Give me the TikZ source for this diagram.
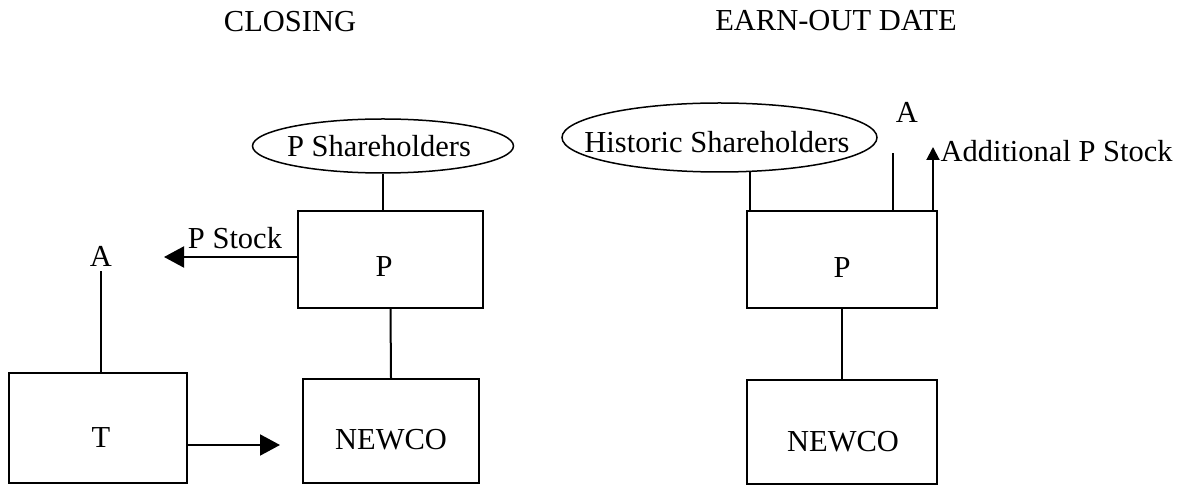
\documentclass[tikz,border=0pt]{standalone}
\usepackage{fontspec}
\setmainfont{Liberation Serif}
\usetikzlibrary{shapes.geometric,arrows.meta,fit}
\begin{document}
\begin{tikzpicture}[x=0.4pt,y=-0.4pt,
  ln/.style={line width=0.8pt},
  arr/.style={ln,-{Triangle[length=8pt,width=8.4pt]}},
  arrup/.style={ln,-{Triangle[length=5.2pt,width=5.2pt]}},
  box/.style={draw,rectangle,line width=0.8pt,inner sep=0pt},
  oval/.style={draw,ellipse,line width=0.6pt,inner sep=0pt},
  txt/.style={font=\fontsize{12.2pt}{14pt}\selectfont,anchor=base,inner sep=0pt}]
\fill[white] (0,0) rectangle (1194,485);
\useasboundingbox (0,0) rectangle (1194,485);
% titles
\node[txt] (closing) at (290,32) {CLOSING};
\node[txt] (earnout) at (836,31) {EARN-OUT DATE};
% left: closing
\node[oval,minimum width=104.4pt,minimum height=21.6pt] (pshe) at (383,146) {};
\node[txt] (pshl) at (379,157) {P Shareholders};
\node[box,fit={(298,211) (483,308)}] (pl) {};
\node[txt] (plt) at (384,277) {P};
\node[box,fit={(303,379) (479,483)}] (nl) {};
\node[txt] (nlt) at (391,450) {NEWCO};
\node[box,fit={(9,373) (187,483)}] (tl) {};
\node[txt] (tlt) at (101,447) {T};
\node[txt] (al) at (101,267) {A};
\node[txt] (pstock) at (235,249) {P Stock};
\coordinate (stocktip) at (164,257);
\coordinate (newcotip) at (280,445);
\draw[ln] (pshe.south) -- (pshe.south |- pl.north);
\draw[ln] (pl.south) -- (nl.north);
\draw[arr] (pl.west |- stocktip) -- (stocktip);
\draw[ln] (tl.north -| al.south) -- ([yshift=-1.6pt]al.south);
\draw[arr] (tl.east |- newcotip) -- (newcotip);
% right: earn-out date
\node[oval,minimum width=126pt,minimum height=27.6pt] (hse) at (719.5,137.5) {};
\node[txt] (hsl) at (717,153) {Historic Shareholders};
\node[box,fit={(747,211) (937,308)}] (pr) {};
\node[txt] (prt) at (842,278) {P};
\node[box,fit={(747,380) (937,484)}] (nr) {};
\node[txt] (nrt) at (843,451) {NEWCO};
\node[txt] (ar) at (907,123) {A};
\node[txt,anchor=base west] (addl) at (940,162) {Additional P Stock};
\coordinate (atip) at (893,153);
\coordinate (addtip) at (933,147);
\draw[ln] (hse.311) -- (hse.311 |- pr.north);
\draw[ln] (pr.north -| atip) -- (atip);
\draw[arrup] (pr.north -| addtip) -- (addtip);
\draw[ln] (pr.south) -- (nr.north);
\end{tikzpicture}
\end{document}
